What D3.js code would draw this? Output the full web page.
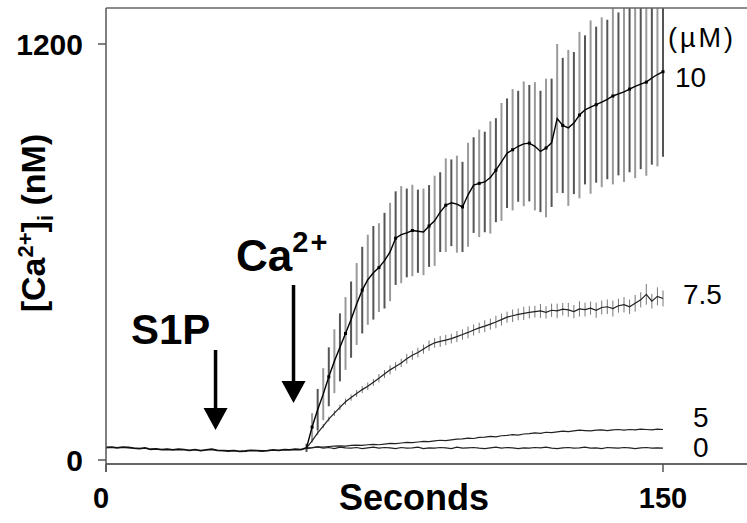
<!DOCTYPE html>
<html><head><meta charset="utf-8">
<script src="https://cdn.jsdelivr.net/npm/d3@7/dist/d3.min.js"></script>
<style>body{margin:0;background:#fff}svg{display:block}</style>
</head><body>
<svg id="c" width="747" height="523"></svg>
<script>
// ---------- data ----------
const timeBaseline = d3.range(0, 54.01, 1.5);   // seconds before Ca2+ add-back
const timeResponse = d3.range(54, 150.01, 1.5); // seconds after
const baseline = [36,37,35,37,36,34,33,35,31,32, 30,31,29,31,30,28,30,27,29,31,
                  28,27,26,27,25,26,28,27,26,27, 29,28,30,29,31,30,35];
const conc10 = [35,95,145,190,240,285,325,365,405,450, 490,520,540,555,575,600,640,650,655,662,
                660,658,675,690,715,735,742,738,730,765, 793,798,802,815,836,860,885,895,905,912,
                914,905,890,900,915,985,965,958,972,995, 1010,1018,1025,1032,1040,1050,1056,1062,1070,1078,
                1084,1090,1102,1112,1120];
const sd10 = [12,40,60,75,85,92,98,105,110,118, 125,130,135,128,138,142,135,140,128,132,
              120,125,118,130,115,135,125,140,130,150, 138,155,145,162,150,170,158,175,160,180,
              168,185,175,200,185,215,195,225,205,240, 215,250,225,245,230,255,235,260,240,265,
              245,270,250,265,245];
const conc75 = [35,55,78,98,118,135,152,168,180,192, 203,213,224,236,248,260,270,280,292,302,
                310,320,330,338,342,346,350,356,362,368, 375,381,386,392,398,405,412,416,420,423,
                426,428,430,426,432,430,435,433,428,436, 434,438,432,440,442,437,445,448,442,452,
                462,478,458,472,466];
const sd75 = [3,5,6,6,7,8,8,9,9,10, 10,11,10,12,11,13,12,12,14,13, 14,13,15,14,16,15,14,16,15,17,
              16,15,17,16,18,17,16,18,17,19, 18,17,20,18,19,21,18,20,19,22, 20,19,22,20,21,23,20,22,21,24,
              22,30,21,26,23];
const conc5 = [35,36,38,37,39,40,41,40,42,43, 42,44,45,44,46,48,47,49,51,50,
               52,54,53,55,57,56,58,60,61,63, 62,65,66,68,67,70,71,73,72,75,
               76,78,77,80,79,81,83,82,84,86, 85,84,86,87,85,87,88,86,88,87,
               89,88,87,89,88];
const conc0 = [33,35,38,34,36,33,37,35,34,36, 33,35,37,34,36,35,33,36,34,35,
               37,33,35,34,36,35,33,37,34,35, 36,34,33,35,37,34,36,35,33,35,
               34,36,35,37,34,33,35,36,34,35, 37,34,35,33,36,35,34,36,35,33,
               35,36,34,35,34];
const seriesLabels = ["10", "7.5", "5", "0"];
const xTicks = [0, 150];
const yTicks = [0, 1200];
const eventTimes = [29.5, 50.5]; // S1P, Ca2+

// ---------- layout ----------
const svg = d3.select("#c");
const x = d3.scaleLinear().domain([0, 150]).range([106, 663]);
const y = d3.scaleLinear().domain([0, 1200]).range([460, 44]);
const FONT = "'Liberation Sans', Arial, sans-serif";

svg.append("defs").append("clipPath").attr("id", "plot")
  .append("rect").attr("x", 106).attr("y", 8).attr("width", 641).attr("height", 456);

const plot = svg.append("g").attr("clip-path", "url(#plot)");

// error bars (10 uM)
const d10 = timeResponse.map((t, i) => ({t, v: conc10[i], e: sd10[i], i}));
plot.selectAll("line.err10").data(d10).join("line")
  .attr("x1", d => x(d.t)).attr("x2", d => x(d.t))
  .attr("y1", d => y(d.v - d.e)).attr("y2", d => y(d.v + d.e))
  .attr("stroke", d => d.i % 2 ? "#9a9a9a" : "#555").attr("stroke-width", 2);

// small error bars (7.5 uM)
const d75 = timeResponse.map((t, i) => ({t, v: conc75[i], e: sd75[i]}));
plot.selectAll("line.err75").data(d75).join("line")
  .attr("x1", d => x(d.t)).attr("x2", d => x(d.t))
  .attr("y1", d => y(d.v - d.e)).attr("y2", d => y(d.v + d.e))
  .attr("stroke", "#777").attr("stroke-width", 1);

const line = d3.line().x(d => x(d[0])).y(d => y(d[1]));
const base = timeBaseline.map((t, i) => [t, baseline[i]]);
[conc0, conc5, conc75].forEach(arr => {
  plot.append("path").attr("d", line(timeResponse.map((t, i) => [t, arr[i]])))
    .attr("fill", "none").attr("stroke", "#222").attr("stroke-width", 1.2);
});
plot.append("path").attr("d", line(timeResponse.map((t, i) => [t, conc10[i]])))
  .attr("fill", "none").attr("stroke", "#000").attr("stroke-width", 1.4);
plot.selectAll("rect.m10").data(d10.filter(d => d.i % 3 === 1)).join("rect")
  .attr("x", d => x(d.t) - 1.5).attr("y", d => y(d.v) - 1.5)
  .attr("width", 3).attr("height", 3).attr("fill", "#000");
plot.append("path").attr("d", line(base))
  .attr("fill", "none").attr("stroke", "#111").attr("stroke-width", 1.8);

// frame / axes
svg.append("line").attr("x1", 106).attr("x2", 747).attr("y1", 8).attr("y2", 8)
  .attr("stroke", "#666").attr("stroke-width", 1.5);
svg.append("line").attr("x1", 106).attr("x2", 747).attr("y1", 464).attr("y2", 464)
  .attr("stroke", "#666").attr("stroke-width", 2);
svg.append("line").attr("x1", 106).attr("x2", 106).attr("y1", 8).attr("y2", 472)
  .attr("stroke", "#555").attr("stroke-width", 1.5);

// y ticks
yTicks.forEach(v => {
  svg.append("line").attr("x1", 98).attr("x2", 106).attr("y1", y(v)).attr("y2", y(v))
    .attr("stroke", "#555").attr("stroke-width", 1.5);
  svg.append("text").attr("x", 83).attr("y", y(v)).attr("dy", "0.36em")
    .attr("text-anchor", "end").attr("font-family", FONT).attr("font-weight", "bold")
    .attr("font-size", 30).text(v);
});
// x ticks
xTicks.forEach(v => {
  svg.append("line").attr("x1", x(v)).attr("x2", x(v)).attr("y1", 464).attr("y2", 472)
    .attr("stroke", "#555").attr("stroke-width", 1.5);
  svg.append("text").attr("x", x(v) - (v ? 0 : 5)).attr("y", 508)
    .attr("text-anchor", "middle").attr("font-family", FONT).attr("font-weight", "bold")
    .attr("font-size", 29).text(v);
});
svg.append("text").attr("x", 414).attr("y", 510).attr("text-anchor", "middle")
  .attr("font-family", FONT).attr("font-weight", "bold").attr("font-size", 36).text("Seconds");

// y label
const yl = svg.append("text").attr("transform", "translate(45,223) rotate(-90)")
  .attr("text-anchor", "middle").attr("font-family", FONT).attr("font-weight", "bold")
  .attr("font-size", 34);
yl.append("tspan").text("[Ca");
yl.append("tspan").attr("dy", -12).attr("font-size", 22).text("2+");
yl.append("tspan").attr("dy", 12).text("]");
yl.append("tspan").attr("dy", 8).attr("font-size", 22).text("i");
yl.append("tspan").attr("dy", -8).text(" (nM)");

// series labels
const labelVals = [1105, 480, 125, 37];
const labelX = [675, 683, 693, 693];
seriesLabels.forEach((s, i) => {
  svg.append("text").attr("x", labelX[i]).attr("y", y(labelVals[i])).attr("dy", "0.36em")
    .attr("font-family", FONT).attr("font-size", 28).text(s);
});
svg.append("text").attr("x", 668).attr("y", 47).attr("font-family", FONT)
  .attr("font-size", 27).attr("letter-spacing", 3).text("(µM)");

// event arrows
function arrow(t, y0, y1) {
  const xx = x(t);
  svg.append("line").attr("x1", xx).attr("x2", xx).attr("y1", y0).attr("y2", y1 - 20)
    .attr("stroke", "#000").attr("stroke-width", 3.5);
  svg.append("path").attr("d", `M${xx - 12},${y1 - 22}L${xx + 12},${y1 - 22}L${xx},${y1}Z`).attr("fill", "#000");
}
arrow(eventTimes[0], 350, 430);
arrow(eventTimes[1], 285, 403);
svg.append("text").attr("x", 131).attr("y", 344).attr("font-family", FONT)
  .attr("font-weight", "bold").attr("font-size", 42).text("S1P");
const ca = svg.append("text").attr("x", 236).attr("y", 271).attr("font-family", FONT)
  .attr("font-weight", "bold").attr("font-size", 44);
ca.append("tspan").text("Ca");
ca.append("tspan").attr("dy", -19).attr("font-size", 29).attr("letter-spacing", 2).text("2+");
</script>
</body></html>
